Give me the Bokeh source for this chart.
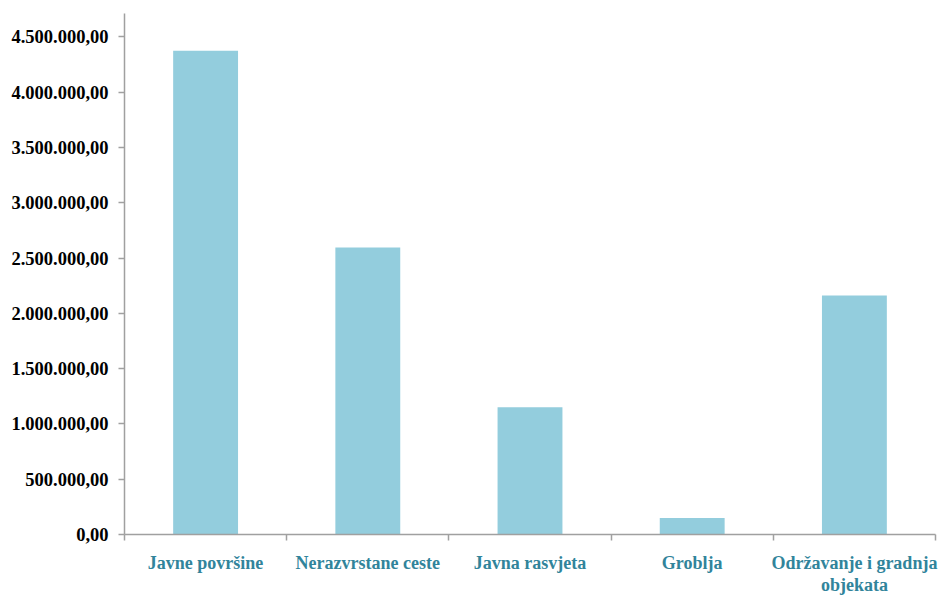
from bokeh.plotting import figure
from bokeh.models import Range1d, FixedTicker, LinearAxis, ColumnDataSource
from bokeh.embed import file_html
from bokeh.resources import INLINE

categories = ["Javne površine", "Nerazvrstane ceste", "Javna rasvjeta", "Groblja",
              "Održavanje i gradnja\nobjekata"]
values = [4375000, 2595000, 1150000, 150000, 2160000]
y_ticks = [0, 500000, 1000000, 1500000, 2000000, 2500000, 3000000, 3500000, 4000000, 4500000]

def fmt(v):
    s = f"{v:,.2f}"
    return s.replace(",", "X").replace(".", ",").replace("X", ".")

n = len(categories)
centers = [i + 0.5 for i in range(n)]
boundaries = list(range(n + 1))

p = figure(width=942, height=597, output_backend="svg", toolbar_location=None,
           x_range=Range1d(0, n), y_range=Range1d(0, 4711000),
           min_border_left=124, min_border_right=7, min_border_top=13, min_border_bottom=63,
           x_axis_type=None, y_axis_type=None)
p.outline_line_color = None
p.background_fill_color = "white"
p.border_fill_color = "white"

src = ColumnDataSource(dict(x=centers, top=values))
p.vbar(x="x", top="top", bottom=0, width=0.4, source=src, fill_color="#93CDDD", line_color=None)

serif = "Liberation Serif"

yaxis = LinearAxis(ticker=FixedTicker(ticks=y_ticks))
yaxis.major_label_overrides = {t: fmt(t) for t in y_ticks}
yaxis.axis_line_color = "#A0A0A0"
yaxis.axis_line_width = 1.5
yaxis.major_tick_line_color = "#A0A0A0"
yaxis.major_tick_line_width = 1.5
yaxis.major_tick_out = 6
yaxis.major_tick_in = 0
yaxis.minor_tick_line_color = None
yaxis.major_label_text_font = serif
yaxis.major_label_text_font_style = "bold"
yaxis.major_label_text_font_size = "18.5px"
yaxis.major_label_text_color = "black"
yaxis.major_label_standoff = 10
p.add_layout(yaxis, "left")

xaxis = LinearAxis(ticker=FixedTicker(ticks=centers, minor_ticks=boundaries))
xaxis.major_label_overrides = {c: lab for c, lab in zip(centers, categories)}
xaxis.axis_line_color = "#A0A0A0"
xaxis.axis_line_width = 1.5
xaxis.major_tick_line_color = None
xaxis.major_tick_out = 6
xaxis.major_tick_in = 0
xaxis.minor_tick_line_color = "#A0A0A0"
xaxis.minor_tick_line_width = 1.5
xaxis.minor_tick_out = 6
xaxis.minor_tick_in = 0
xaxis.major_label_text_font = serif
xaxis.major_label_text_font_style = "bold"
xaxis.major_label_text_font_size = "18px"
xaxis.major_label_text_color = "#31849B"
xaxis.major_label_text_line_height = 1.1
xaxis.major_label_standoff = 12
p.add_layout(xaxis, "below")

p.xgrid.visible = False
p.ygrid.ticker = FixedTicker(ticks=y_ticks)
p.ygrid.grid_line_color = "#A0A0A0"
p.ygrid.grid_line_width = 1.3
p.ygrid.level = "underlay"

open("out.html", "w").write(file_html(p, INLINE))
